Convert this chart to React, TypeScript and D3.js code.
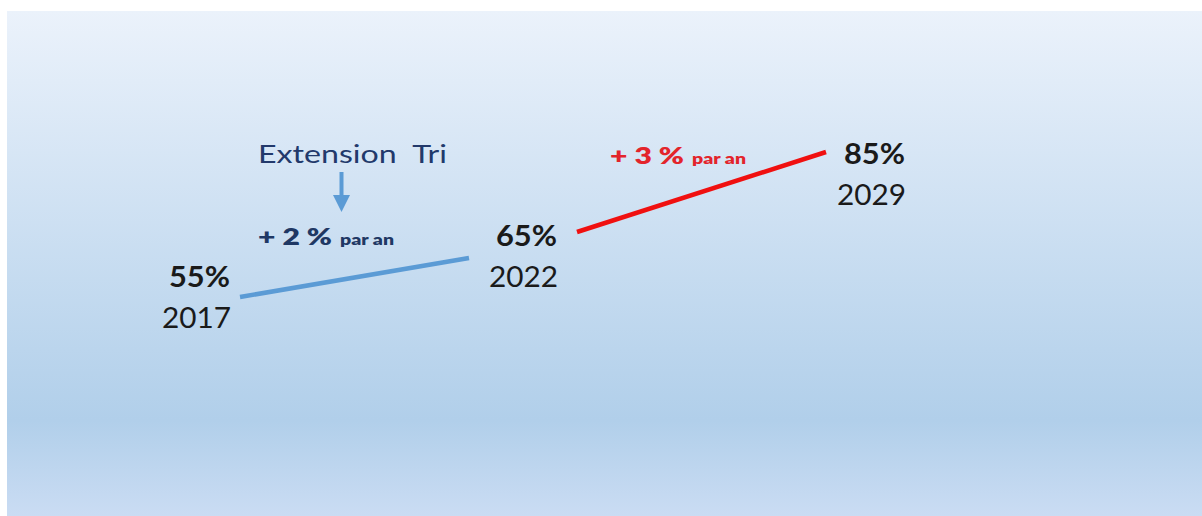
import React from "react";
import * as d3 from "d3";

const years = ["2017", "2022", "2029"];
const values = [55, 65, 85];
const segments = [
  { from: 0, to: 1, rate: "+ 2 %", unit: "par an", color: "#5b9bd5", textColor: "#1f3864" },
  { from: 1, to: 2, rate: "+ 3 %", unit: "par an", color: "#f01010", textColor: "#e3242b" },
];
const annotation = "Extension\u00a0\u00a0Tri";

const W = 1202;
const H = 516;
const FONT = "Lato, 'Open Sans', sans-serif";

export default function App() {
  const x = d3.scaleLinear().domain([0, 1, 2]).range([231, 558, 906]);
  const y = d3.scaleLinear().domain([55, 85]).range([287, 164]);
  const line = d3.line<[number, number]>().x((d) => d[0]).y((d) => d[1]);

  // segment end offsets relative to label anchors (layout)
  const segOffsets = [
    { s: [9, 10], e: [-89, 12] },
    { s: [19, -14], e: [-80, -12] },
  ];
  const rateX = [258, 610];
  const rateY = [245, 164];

  return (
    <svg width={W} height={H} style={{ position: "absolute", left: 0, top: 0 }}>
      <defs>
        <linearGradient id="bg" x1="0" y1="0" x2="0" y2="1">
          <stop offset="0" stopColor="#ebf2fb" />
          <stop offset="0.81" stopColor="#b1cfea" />
          <stop offset="1" stopColor="#cadcf3" />
        </linearGradient>
      </defs>
      <rect x={0} y={0} width={W} height={H} fill="#ffffff" />
      <rect x={7} y={11} width={W - 7} height={H - 11} fill="url(#bg)" />

      {segments.map((sg, i) => {
        const o = segOffsets[i];
        const p0: [number, number] = [x(sg.from) + o.s[0], y(values[sg.from]) + o.s[1]];
        const p1: [number, number] = [x(sg.to) + o.e[0], y(values[sg.to]) + o.e[1]];
        return (
          <path key={i} d={line([p0, p1]) || ""} stroke={sg.color} strokeWidth={4.5} fill="none" />
        );
      })}

      {years.map((yr, i) => (
        <g key={yr} fontFamily={FONT} fill="#1a1a1a">
          <text
            x={x(i) - 62}
            y={y(values[i])}
            fontSize={28}
            fontWeight={700}
            textLength={61}
            lengthAdjust="spacingAndGlyphs"
          >
            {values[i]}%
          </text>
          <text
            x={x(i) - 69}
            y={y(values[i]) + 41}
            fontSize={28}
            textLength={69}
            lengthAdjust="spacingAndGlyphs"
          >
            {yr}
          </text>
        </g>
      ))}

      {/* annotation */}
      <text
        x={258}
        y={163}
        fontFamily={FONT}
        fontSize={25}
        fill="#22396b"
        textLength={189}
        lengthAdjust="spacingAndGlyphs"
      >
        {annotation}
      </text>
      <rect x={339.5} y={172} width={4} height={24} fill="#5b9bd5" />
      <path d="M333,195 L350,195 L341.5,212 Z" fill="#5b9bd5" />

      {segments.map((sg, i) => (
        <g key={"r" + i} fontFamily={FONT} fontWeight={800} fill={sg.textColor}>
          <text
            x={rateX[i]}
            y={rateY[i]}
            fontSize={23}
            textLength={74}
            lengthAdjust="spacingAndGlyphs"
          >
            {sg.rate.replace(/ /g, "\u00a0")}
          </text>
          <text
            x={rateX[i] + 82}
            y={rateY[i]}
            fontSize={15}
            textLength={54}
            lengthAdjust="spacingAndGlyphs"
          >
            {sg.unit}
          </text>
        </g>
      ))}
    </svg>
  );
}
